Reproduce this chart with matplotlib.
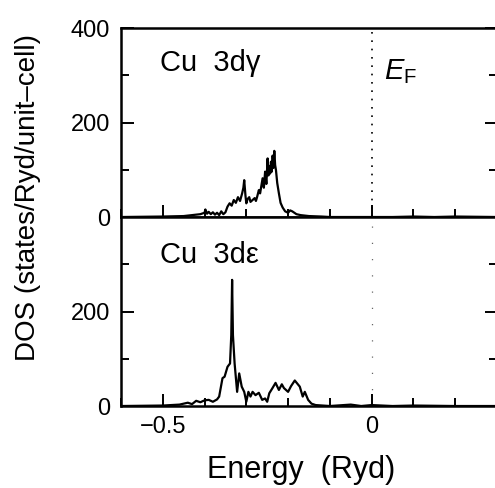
import matplotlib
matplotlib.use("Agg")
import matplotlib.pyplot as plt
from matplotlib.ticker import MultipleLocator, FixedLocator

plt.rcParams['font.family'] = ['Liberation Sans', 'DejaVu Sans']
plt.rcParams['mathtext.fontset'] = 'custom'
plt.rcParams['mathtext.rm'] = 'Liberation Sans'
plt.rcParams['mathtext.it'] = 'Liberation Sans:italic'

# Cu 3d-gamma partial DOS (energy in Ryd, states/Ryd/unit-cell)
e_gamma = [-0.60, -0.50, -0.45, -0.43, -0.41, -0.40, -0.398, -0.394, -0.39, -0.385,
           -0.38, -0.375, -0.37, -0.365, -0.36, -0.355, -0.35, -0.345, -0.34, -0.335,
           -0.33, -0.325, -0.32, -0.315, -0.31, -0.307, -0.305, -0.302, -0.30, -0.297,
           -0.293, -0.29, -0.285, -0.28, -0.277, -0.274, -0.27, -0.267, -0.264, -0.261,
           -0.258, -0.255, -0.252, -0.249, -0.247, -0.245, -0.243, -0.241, -0.239, -0.237,
           -0.235, -0.233, -0.231, -0.229, -0.226, -0.222, -0.218, -0.213, -0.207, -0.20,
           -0.195, -0.19, -0.18, -0.17, -0.15, -0.12, -0.10, -0.05, 0.0, 0.05,
           0.10, 0.15, 0.20, 0.30]
dos_gamma = [0, 1, 2, 4, 6, 9, 16, 7, 11, 6,
             10, 5, 9, 4, 12, 6, 10, 22, 29, 24,
             36, 30, 42, 34, 50, 62, 78, 45, 29, 38,
             42, 32, 36, 40, 34, 43, 57, 50, 66, 82,
             62, 96, 70, 124, 88, 108, 92, 117, 96, 130,
             104, 140, 110, 99, 72, 50, 30, 20, 12, 9,
             14, 12, 6, 4, 2, 1, 0, 0, 0, 0,
             1, 0, 1, 0]

# Cu 3d-epsilon partial DOS
e_eps = [-0.60, -0.50, -0.46, -0.44, -0.43, -0.42, -0.41, -0.40, -0.39, -0.38,
         -0.37, -0.365, -0.357, -0.352, -0.345, -0.339, -0.336, -0.334, -0.332, -0.328,
         -0.322, -0.317, -0.311, -0.305, -0.30, -0.295, -0.29, -0.285, -0.278, -0.27,
         -0.262, -0.255, -0.25, -0.245, -0.238, -0.23, -0.222, -0.215, -0.21, -0.20,
         -0.193, -0.184, -0.172, -0.165, -0.16, -0.152, -0.144, -0.134, -0.10, -0.05,
         -0.025, 0.0, 0.05, 0.10, 0.20, 0.30]
dos_eps = [0, 1, 3, 7, 4, 11, 8, 12, 13, 9,
           14, 20, 59, 62, 83, 90, 150, 267, 150, 90,
           30, 69, 41, 30, 9, 30, 20, 30, 23, 28,
           13, 16, 9, 27, 37, 49, 34, 46, 38, 30,
           42, 54, 41, 20, 30, 13, 5, 2, 0, 3,
           0, 2, 0, 1, 0, 0]

fig = plt.figure(figsize=(4.95, 4.88), dpi=100)
ax1 = fig.add_axes([0.2444, 0.5553, 0.7596, 0.3873])
ax2 = fig.add_axes([0.2444, 0.1680, 0.7596, 0.3873], sharex=ax1)

for ax in (ax1, ax2):
    ax.set_xlim(-0.6, 0.3)
    ax.set_ylim(0, 400)
    ax.xaxis.set_major_locator(FixedLocator([-0.5, 0.0]))
    ax.xaxis.set_minor_locator(MultipleLocator(0.1))
    ax.yaxis.set_minor_locator(FixedLocator([100, 300]))
    ax.tick_params(which='both', direction='in', right=True, top=False,
                   width=1.4, labelsize=17, pad=8)
    ax.tick_params(which='major', length=9)
    ax.tick_params(which='minor', length=5.5)
    for s in ax.spines.values():
        s.set_linewidth(1.8)

ax1.set_yticks([0, 200, 400])
ax2.set_yticks([0, 200])
ax1.tick_params(axis='x', labelbottom=False)
ax2.set_xticklabels(['\u22120.5', '0'])
ax2.tick_params(axis='x', pad=7)

ax1.plot(e_gamma, dos_gamma, color='black', lw=1.6)
ax2.plot(e_eps, dos_eps, color='black', lw=1.6)

ax1.axvline(0, color='black', lw=1.2, ls=(0, (1, 4)))
ax2.axvline(0, color='black', lw=0.9, ls=(0, (1, 12)), alpha=0.6)

ax1.text(0.104, 0.815, 'Cu  3d\u03b3', transform=ax1.transAxes, fontsize=21,
         va='center', ha='left')
ax2.text(0.104, 0.80, 'Cu  3d\u03b5', transform=ax2.transAxes, fontsize=21,
         va='center', ha='left')
ax1.text(0.03, 0.77, r'$E_{\mathrm{F}}$', transform=ax1.get_xaxis_transform(),
         fontsize=21, va='center', ha='left')

fig.text(0.608, 0.037, 'Energy  (Ryd)', fontsize=22, va='center', ha='center')
fig.text(0.057, 0.596, 'DOS (states/Ryd/unit\u2013cell)', rotation=90,
         fontsize=20, va='center', ha='center')

fig.savefig('out.png', dpi=100)
